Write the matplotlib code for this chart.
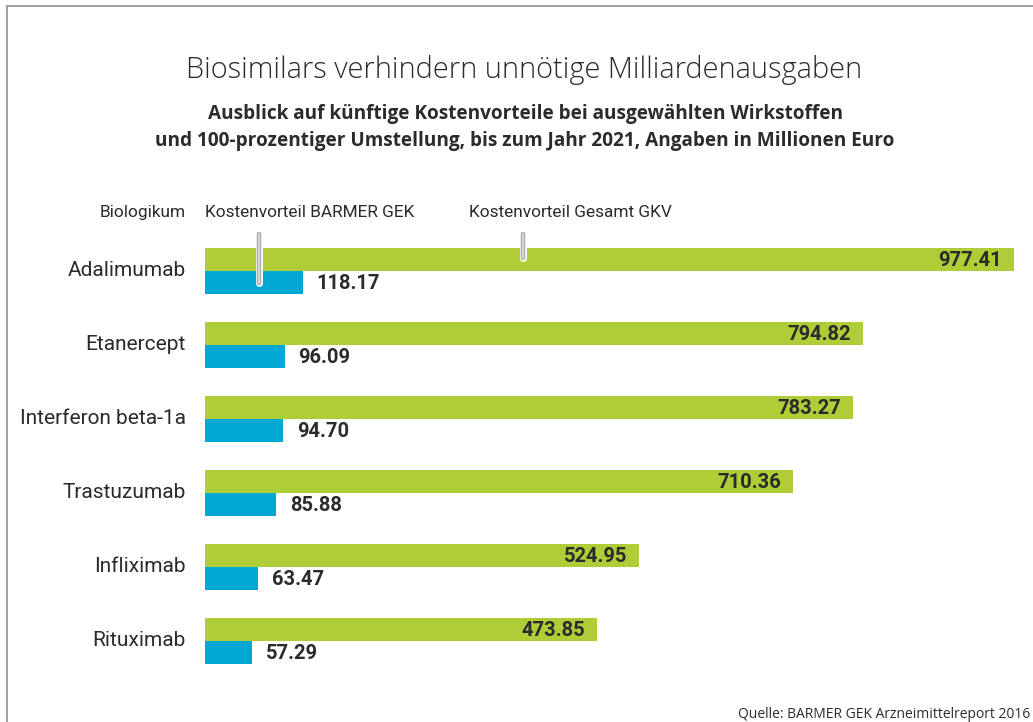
import matplotlib
matplotlib.use("Agg")
import matplotlib.pyplot as plt
from matplotlib.lines import Line2D

categories = ["Adalimumab", "Etanercept", "Interferon beta-1a", "Trastuzumab", "Infliximab", "Rituximab"]
gkv = [977.41, 794.82, 783.27, 710.36, 524.95, 473.85]
barmer = [118.17, 96.09, 94.70, 85.88, 63.47, 57.29]

title = "Biosimilars verhindern unnötige Milliardenausgaben"
subtitle = ("Ausblick auf künftige Kostenvorteile bei ausgewählten Wirkstoffen\n"
            "und 100-prozentiger Umstellung, bis zum Jahr 2021, Angaben in Millionen Euro")
source = "Quelle: BARMER GEK Arzneimittelreport 2016"

GREEN = "#AFCD37"
BLUE = "#00A9D3"
TXT = "#2b2b2b"

W, H = 1033, 722
fig = plt.figure(figsize=(W / 100, H / 100), dpi=100)
fig.patch.set_facecolor("white")

# frame
fig.add_artist(Line2D([7 / W, 7 / W], [0, 1 - 6 / H], color="#9a9a9a", lw=1.3, transform=fig.transFigure))
fig.add_artist(Line2D([7 / W, 1], [1 - 6 / H, 1 - 6 / H], color="#9a9a9a", lw=1.3, transform=fig.transFigure))

# axes: x from pixel 205 to right edge; y rows spaced 74px
x0 = 205
px_per_unit = 0.8275
ax = fig.add_axes([x0 / W, 1 - 715 / H, 1 - x0 / W, 518 / H])
ax.set_xlim(0, (W - x0) / px_per_unit)
ax.set_ylim(6, -1)
ax.axis("off")

bh = 23 / 74
ys = list(range(len(categories)))
ax.barh([y - bh / 2 for y in ys], gkv, height=bh, color=GREEN, zorder=2)
ax.barh([y + bh / 2 for y in ys], barmer, height=bh, color=BLUE, zorder=2)

for y, cat, g, b in zip(ys, categories, gkv, barmer):
    ax.text(-19 / px_per_unit, y, cat, ha="right", va="center", fontsize=15,
            family="Roboto", color=TXT)
    ax.text(g - 12 / px_per_unit, y - bh / 2 + 0.01, f"{g:.2f}", ha="right", va="center",
            fontsize=14.5, family="Roboto", fontweight="bold", color=TXT, zorder=3)
    ax.text(b + 14 / px_per_unit, y + bh / 2 + 0.01, f"{b:.2f}", ha="left", va="center",
            fontsize=14.5, family="Roboto", fontweight="bold", color=TXT, zorder=3)

# header labels
hdr_fs = 12.4
fig.text(186 / W, 1 - 212 / H, "Biologikum", ha="right", va="center", fontsize=hdr_fs,
         family="Roboto", color=TXT)
fig.text(205 / W, 1 - 212 / H, "Kostenvorteil BARMER GEK", ha="left", va="center", fontsize=hdr_fs,
         family="Roboto", color=TXT)
fig.text(469 / W, 1 - 212 / H, "Kostenvorteil Gesamt GKV", ha="left", va="center", fontsize=hdr_fs,
         family="Roboto", color=TXT)

# pointer ticks
for xp, ytop, ybot in [(259, 234, 283), (523, 234, 258)]:
    for lw, c in [(5, "white"), (3.2, "#a8a8a8"), (1.6, "#d6d6d6")]:
        fig.add_artist(Line2D([xp / W, xp / W], [1 - ytop / H, 1 - ybot / H], color=c, lw=lw,
                              solid_capstyle="round", transform=fig.transFigure, zorder=5))

fig.text(524 / W, 1 - 70 / H, title, ha="center", va="center", fontsize=20.9,
         family="Open Sans", fontweight="light", color=TXT)
fig.text(525 / W, 1 - 127.5 / H, subtitle, ha="center", va="center", fontsize=13.7,
         family="Open Sans", fontweight="bold", color=TXT, linespacing=1.5)

fig.text((W - 3) / W, 1 - 714 / H, source, ha="right", va="center", fontsize=10,
         family="Open Sans", color=TXT)

fig.savefig("out.png", dpi=100, facecolor="white")
